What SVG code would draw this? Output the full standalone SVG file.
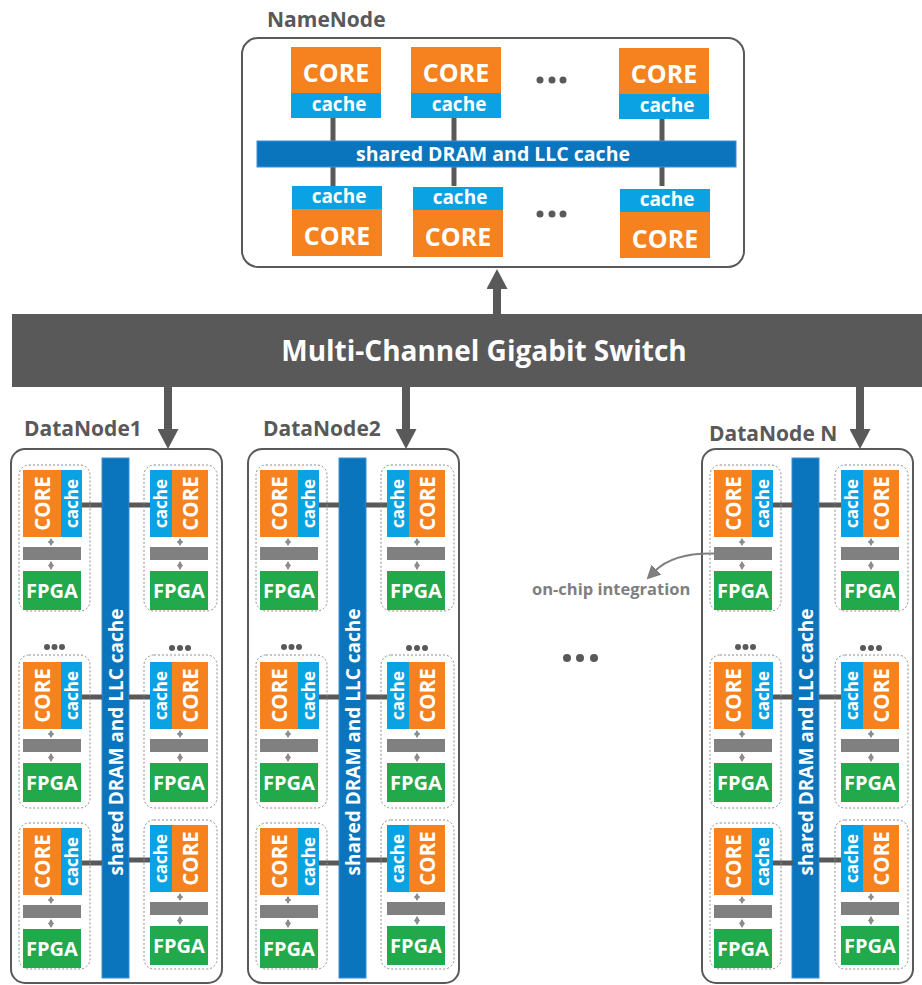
<svg xmlns="http://www.w3.org/2000/svg" width="922" height="985" viewBox="0 0 922 985">
<style>
.core{fill:#F5821F}
.cache{fill:#0AA2E2}
.bus{fill:#0A74BC;stroke:#3B8FD6;stroke-width:1}
.bar{fill:#808080}
.fpga{fill:#22A94B}
.dash{fill:none;stroke:#8C8C8C;stroke-width:1;stroke-dasharray:2 2}
.box{fill:#fff;stroke:#595959;stroke-width:2}
.t{font-family:"Open Sans","Noto Sans","Liberation Sans",sans-serif;font-weight:700}
.w{fill:#fff;text-anchor:middle}
.lbl{fill:#595959;font-size:21px}
.link{stroke:#595959;stroke-width:5}
.dbl{stroke:#8C8C8C;stroke-width:1.5;marker-start:url(#sa);marker-end:url(#sa)}
.big{stroke:#595959;stroke-width:8;marker-end:url(#ah)}
.dot{fill:#595959}
.vc{font-size:20.5px}
.vk{font-size:17px}
.fp{font-size:20px}
</style>
<defs>
<marker id="ah" markerUnits="userSpaceOnUse" markerWidth="20" markerHeight="21" viewBox="0 0 20 21" refX="0" refY="10.5" orient="auto"><path d="M0,0 L20,10.5 L0,21 Z" fill="#595959"/></marker>
<marker id="sa" markerUnits="userSpaceOnUse" markerWidth="5" markerHeight="6" viewBox="0 0 5 6" refX="4" refY="3" orient="auto-start-reverse"><path d="M0,0 L5,3 L0,6 Z" fill="#8C8C8C"/></marker>
<marker id="ga" markerUnits="userSpaceOnUse" markerWidth="14" markerHeight="14" viewBox="0 0 14 14" refX="2" refY="7" orient="auto"><path d="M0,0 L14,7 L0,14 Z" fill="#7F7F7F"/></marker>
</defs>

<g id="namenode">
<text class="t lbl" x="267" y="27">NameNode</text>
<rect class="box" x="242" y="38" width="502" height="229" rx="16"/>
<line class="link" x1="333" y1="118" x2="333" y2="186"/>
<line class="link" x1="454" y1="118" x2="454" y2="186"/>
<line class="link" x1="662" y1="118" x2="662" y2="186"/>
<rect class="bus" x="257" y="141" width="479" height="26"/>
<text class="t w" x="493" y="160.5" font-size="19.5">shared DRAM and LLC cache</text>
<rect class="core" x="291" y="47" width="90" height="46"/><rect class="cache" x="291" y="93" width="90" height="25"/>
<text class="t w" x="336" y="82" font-size="25">CORE</text><text class="t w" x="339" y="111" font-size="19">cache</text>
<rect class="core" x="411" y="47" width="90" height="46"/><rect class="cache" x="411" y="93" width="90" height="25"/>
<text class="t w" x="456" y="82" font-size="25">CORE</text><text class="t w" x="459" y="111" font-size="19">cache</text>
<rect class="core" x="619" y="48" width="90" height="46"/><rect class="cache" x="619" y="94" width="90" height="25"/>
<text class="t w" x="664" y="83" font-size="25">CORE</text><text class="t w" x="667" y="112" font-size="19">cache</text>
<rect class="cache" x="292" y="186" width="90" height="23"/><rect class="core" x="292" y="209" width="90" height="47"/>
<text class="t w" x="339" y="203" font-size="19">cache</text><text class="t w" x="337" y="245" font-size="25">CORE</text>
<rect class="cache" x="413" y="187" width="90" height="23"/><rect class="core" x="413" y="210" width="90" height="47"/>
<text class="t w" x="460" y="204" font-size="19">cache</text><text class="t w" x="458" y="246" font-size="25">CORE</text>
<rect class="cache" x="620" y="189" width="90" height="23"/><rect class="core" x="620" y="212" width="90" height="46"/>
<text class="t w" x="667" y="206" font-size="19">cache</text><text class="t w" x="665" y="248" font-size="25">CORE</text>
<circle class="dot" cx="540" cy="80" r="3.5"/><circle class="dot" cx="552" cy="80" r="3.5"/><circle class="dot" cx="563" cy="80" r="3.5"/>
<circle class="dot" cx="540" cy="214" r="3.5"/><circle class="dot" cx="552" cy="214" r="3.5"/><circle class="dot" cx="563" cy="214" r="3.5"/>
</g>

<g id="switch">
<rect x="12" y="314" width="910" height="73" fill="#595959"/>
<text class="t w" x="484" y="361" font-size="28">Multi-Channel Gigabit Switch</text>
</g>

<g id="datanode1">
<text class="t lbl" x="24" y="436">DataNode1</text>
<rect class="box" x="11" y="449" width="211" height="534" rx="14"/>
<rect class="bus" x="102" y="458" width="27" height="520"/>
<text class="t w" transform="translate(116,742) rotate(-90)" y="6.5" font-size="19">shared DRAM and LLC cache</text>
<line class="link" x1="82" y1="505" x2="102" y2="505"/><line class="link" x1="129" y1="505" x2="150" y2="505"/>
<line class="link" x1="82" y1="697" x2="102" y2="697"/><line class="link" x1="129" y1="697" x2="150" y2="697"/>
<line class="link" x1="82" y1="863" x2="102" y2="863"/><line class="link" x1="129" y1="860" x2="150" y2="860"/>
<g transform="translate(23,470)"><rect class="dash" x="-4" y="-5" width="71" height="146" rx="10"/><rect class="core" width="38" height="67"/><rect class="cache" x="38" width="21" height="67"/><text class="t w vc" transform="translate(19,33.5) rotate(-90)" y="7.5">CORE</text><text class="t w vk" transform="translate(49,33.5) rotate(-90)" y="6">cache</text><line class="dbl" x1="28" y1="69" x2="28" y2="75"/><rect class="bar" y="77" width="58" height="13"/><line class="dbl" x1="28" y1="92" x2="28" y2="99"/><rect class="fpga" y="101" width="58" height="39"/><text class="t w fp" x="29" y="127.5">FPGA</text></g>
<g transform="translate(150,470)"><rect class="dash" x="-6" y="-5" width="73" height="146" rx="10"/><rect class="cache" width="22" height="67"/><rect class="core" x="22" width="36" height="67"/><text class="t w vk" transform="translate(11,33.5) rotate(-90)" y="6">cache</text><text class="t w vc" transform="translate(40,33.5) rotate(-90)" y="7.5">CORE</text><line class="dbl" x1="30" y1="69" x2="30" y2="75"/><rect class="bar" y="77" width="58" height="13"/><line class="dbl" x1="30" y1="92" x2="30" y2="99"/><rect class="fpga" y="101" width="58" height="39"/><text class="t w fp" x="29" y="127.5">FPGA</text></g>
<g transform="translate(23,662)"><rect class="dash" x="-4" y="-7" width="71" height="153" rx="10"/><rect class="core" width="38" height="67"/><rect class="cache" x="38" width="21" height="67"/><text class="t w vc" transform="translate(19,33.5) rotate(-90)" y="7.5">CORE</text><text class="t w vk" transform="translate(49,33.5) rotate(-90)" y="6">cache</text><line class="dbl" x1="28" y1="69" x2="28" y2="75"/><rect class="bar" y="77" width="58" height="13"/><line class="dbl" x1="28" y1="92" x2="28" y2="99"/><rect class="fpga" y="101" width="58" height="39"/><text class="t w fp" x="29" y="127.5">FPGA</text></g>
<g transform="translate(150,662)"><rect class="dash" x="-6" y="-7" width="73" height="153" rx="10"/><rect class="cache" width="22" height="67"/><rect class="core" x="22" width="36" height="67"/><text class="t w vk" transform="translate(11,33.5) rotate(-90)" y="6">cache</text><text class="t w vc" transform="translate(40,33.5) rotate(-90)" y="7.5">CORE</text><line class="dbl" x1="30" y1="69" x2="30" y2="75"/><rect class="bar" y="77" width="58" height="13"/><line class="dbl" x1="30" y1="92" x2="30" y2="99"/><rect class="fpga" y="101" width="58" height="39"/><text class="t w fp" x="29" y="127.5">FPGA</text></g>
<g transform="translate(23,828)"><rect class="dash" x="-4" y="-5" width="71" height="146" rx="10"/><rect class="core" width="38" height="67"/><rect class="cache" x="38" width="21" height="67"/><text class="t w vc" transform="translate(19,33.5) rotate(-90)" y="7.5">CORE</text><text class="t w vk" transform="translate(49,33.5) rotate(-90)" y="6">cache</text><line class="dbl" x1="28" y1="69" x2="28" y2="75"/><rect class="bar" y="77" width="58" height="13"/><line class="dbl" x1="28" y1="92" x2="28" y2="99"/><rect class="fpga" y="101" width="58" height="39"/><text class="t w fp" x="29" y="127.5">FPGA</text></g>
<g transform="translate(150,825)"><rect class="dash" x="-6" y="-5" width="73" height="149" rx="10"/><rect class="cache" width="22" height="67"/><rect class="core" x="22" width="36" height="67"/><text class="t w vk" transform="translate(11,33.5) rotate(-90)" y="6">cache</text><text class="t w vc" transform="translate(40,33.5) rotate(-90)" y="7.5">CORE</text><line class="dbl" x1="30" y1="69" x2="30" y2="75"/><rect class="bar" y="77" width="58" height="13"/><line class="dbl" x1="30" y1="92" x2="30" y2="99"/><rect class="fpga" y="101" width="58" height="39"/><text class="t w fp" x="29" y="127.5">FPGA</text></g>
<circle class="dot" cx="47" cy="647" r="3"/><circle class="dot" cx="54.5" cy="647" r="3"/><circle class="dot" cx="62" cy="647" r="3"/>
<circle class="dot" cx="172" cy="648" r="3"/><circle class="dot" cx="180" cy="648" r="3"/><circle class="dot" cx="188" cy="648" r="3"/>
</g>

<g id="datanode2">
<text class="t lbl" x="263" y="436">DataNode2</text>
<g transform="translate(237,0)">
<rect class="box" x="11" y="449" width="211" height="534" rx="14"/>
<rect class="bus" x="102" y="458" width="27" height="520"/>
<text class="t w" transform="translate(116,742) rotate(-90)" y="6.5" font-size="19">shared DRAM and LLC cache</text>
<line class="link" x1="82" y1="505" x2="102" y2="505"/><line class="link" x1="129" y1="505" x2="150" y2="505"/>
<line class="link" x1="82" y1="697" x2="102" y2="697"/><line class="link" x1="129" y1="697" x2="150" y2="697"/>
<line class="link" x1="82" y1="863" x2="102" y2="863"/><line class="link" x1="129" y1="860" x2="150" y2="860"/>
<g transform="translate(23,470)"><rect class="dash" x="-4" y="-5" width="71" height="146" rx="10"/><rect class="core" width="38" height="67"/><rect class="cache" x="38" width="21" height="67"/><text class="t w vc" transform="translate(19,33.5) rotate(-90)" y="7.5">CORE</text><text class="t w vk" transform="translate(49,33.5) rotate(-90)" y="6">cache</text><line class="dbl" x1="28" y1="69" x2="28" y2="75"/><rect class="bar" y="77" width="58" height="13"/><line class="dbl" x1="28" y1="92" x2="28" y2="99"/><rect class="fpga" y="101" width="58" height="39"/><text class="t w fp" x="29" y="127.5">FPGA</text></g>
<g transform="translate(150,470)"><rect class="dash" x="-6" y="-5" width="73" height="146" rx="10"/><rect class="cache" width="22" height="67"/><rect class="core" x="22" width="36" height="67"/><text class="t w vk" transform="translate(11,33.5) rotate(-90)" y="6">cache</text><text class="t w vc" transform="translate(40,33.5) rotate(-90)" y="7.5">CORE</text><line class="dbl" x1="30" y1="69" x2="30" y2="75"/><rect class="bar" y="77" width="58" height="13"/><line class="dbl" x1="30" y1="92" x2="30" y2="99"/><rect class="fpga" y="101" width="58" height="39"/><text class="t w fp" x="29" y="127.5">FPGA</text></g>
<g transform="translate(23,662)"><rect class="dash" x="-4" y="-7" width="71" height="153" rx="10"/><rect class="core" width="38" height="67"/><rect class="cache" x="38" width="21" height="67"/><text class="t w vc" transform="translate(19,33.5) rotate(-90)" y="7.5">CORE</text><text class="t w vk" transform="translate(49,33.5) rotate(-90)" y="6">cache</text><line class="dbl" x1="28" y1="69" x2="28" y2="75"/><rect class="bar" y="77" width="58" height="13"/><line class="dbl" x1="28" y1="92" x2="28" y2="99"/><rect class="fpga" y="101" width="58" height="39"/><text class="t w fp" x="29" y="127.5">FPGA</text></g>
<g transform="translate(150,662)"><rect class="dash" x="-6" y="-7" width="73" height="153" rx="10"/><rect class="cache" width="22" height="67"/><rect class="core" x="22" width="36" height="67"/><text class="t w vk" transform="translate(11,33.5) rotate(-90)" y="6">cache</text><text class="t w vc" transform="translate(40,33.5) rotate(-90)" y="7.5">CORE</text><line class="dbl" x1="30" y1="69" x2="30" y2="75"/><rect class="bar" y="77" width="58" height="13"/><line class="dbl" x1="30" y1="92" x2="30" y2="99"/><rect class="fpga" y="101" width="58" height="39"/><text class="t w fp" x="29" y="127.5">FPGA</text></g>
<g transform="translate(23,828)"><rect class="dash" x="-4" y="-5" width="71" height="146" rx="10"/><rect class="core" width="38" height="67"/><rect class="cache" x="38" width="21" height="67"/><text class="t w vc" transform="translate(19,33.5) rotate(-90)" y="7.5">CORE</text><text class="t w vk" transform="translate(49,33.5) rotate(-90)" y="6">cache</text><line class="dbl" x1="28" y1="69" x2="28" y2="75"/><rect class="bar" y="77" width="58" height="13"/><line class="dbl" x1="28" y1="92" x2="28" y2="99"/><rect class="fpga" y="101" width="58" height="39"/><text class="t w fp" x="29" y="127.5">FPGA</text></g>
<g transform="translate(150,825)"><rect class="dash" x="-6" y="-5" width="73" height="149" rx="10"/><rect class="cache" width="22" height="67"/><rect class="core" x="22" width="36" height="67"/><text class="t w vk" transform="translate(11,33.5) rotate(-90)" y="6">cache</text><text class="t w vc" transform="translate(40,33.5) rotate(-90)" y="7.5">CORE</text><line class="dbl" x1="30" y1="69" x2="30" y2="75"/><rect class="bar" y="77" width="58" height="13"/><line class="dbl" x1="30" y1="92" x2="30" y2="99"/><rect class="fpga" y="101" width="58" height="39"/><text class="t w fp" x="29" y="127.5">FPGA</text></g>
<circle class="dot" cx="47" cy="647" r="3"/><circle class="dot" cx="54.5" cy="647" r="3"/><circle class="dot" cx="62" cy="647" r="3"/>
<circle class="dot" cx="172" cy="648" r="3"/><circle class="dot" cx="180" cy="648" r="3"/><circle class="dot" cx="188" cy="648" r="3"/>
</g>
</g>

<g id="datanodeN">
<text class="t lbl" x="709" y="441">DataNode N</text>
<g transform="translate(691,0)">
<rect class="box" x="11" y="449" width="211" height="534" rx="14"/>
<rect class="bus" x="101" y="458" width="27" height="520"/>
<text class="t w" transform="translate(115,742) rotate(-90)" y="6.5" font-size="19">shared DRAM and LLC cache</text>
<line class="link" x1="82" y1="505" x2="102" y2="505"/><line class="link" x1="128" y1="505" x2="150" y2="505"/>
<line class="link" x1="82" y1="697" x2="102" y2="697"/><line class="link" x1="128" y1="697" x2="150" y2="697"/>
<line class="link" x1="82" y1="863" x2="102" y2="863"/><line class="link" x1="128" y1="860" x2="150" y2="860"/>
<g transform="translate(23,470)"><rect class="dash" x="-4" y="-5" width="71" height="146" rx="10"/><rect class="core" width="38" height="67"/><rect class="cache" x="38" width="21" height="67"/><text class="t w vc" transform="translate(19,33.5) rotate(-90)" y="7.5">CORE</text><text class="t w vk" transform="translate(49,33.5) rotate(-90)" y="6">cache</text><line class="dbl" x1="28" y1="69" x2="28" y2="75"/><rect class="bar" y="77" width="58" height="13"/><line class="dbl" x1="28" y1="92" x2="28" y2="99"/><rect class="fpga" y="101" width="58" height="39"/><text class="t w fp" x="29" y="127.5">FPGA</text></g>
<g transform="translate(150,470)"><rect class="dash" x="-6" y="-5" width="73" height="146" rx="10"/><rect class="cache" width="22" height="67"/><rect class="core" x="22" width="36" height="67"/><text class="t w vk" transform="translate(11,33.5) rotate(-90)" y="6">cache</text><text class="t w vc" transform="translate(40,33.5) rotate(-90)" y="7.5">CORE</text><line class="dbl" x1="30" y1="69" x2="30" y2="75"/><rect class="bar" y="77" width="58" height="13"/><line class="dbl" x1="30" y1="92" x2="30" y2="99"/><rect class="fpga" y="101" width="58" height="39"/><text class="t w fp" x="29" y="127.5">FPGA</text></g>
<g transform="translate(23,662)"><rect class="dash" x="-4" y="-7" width="71" height="153" rx="10"/><rect class="core" width="38" height="67"/><rect class="cache" x="38" width="21" height="67"/><text class="t w vc" transform="translate(19,33.5) rotate(-90)" y="7.5">CORE</text><text class="t w vk" transform="translate(49,33.5) rotate(-90)" y="6">cache</text><line class="dbl" x1="28" y1="69" x2="28" y2="75"/><rect class="bar" y="77" width="58" height="13"/><line class="dbl" x1="28" y1="92" x2="28" y2="99"/><rect class="fpga" y="101" width="58" height="39"/><text class="t w fp" x="29" y="127.5">FPGA</text></g>
<g transform="translate(150,662)"><rect class="dash" x="-6" y="-7" width="73" height="153" rx="10"/><rect class="cache" width="22" height="67"/><rect class="core" x="22" width="36" height="67"/><text class="t w vk" transform="translate(11,33.5) rotate(-90)" y="6">cache</text><text class="t w vc" transform="translate(40,33.5) rotate(-90)" y="7.5">CORE</text><line class="dbl" x1="30" y1="69" x2="30" y2="75"/><rect class="bar" y="77" width="58" height="13"/><line class="dbl" x1="30" y1="92" x2="30" y2="99"/><rect class="fpga" y="101" width="58" height="39"/><text class="t w fp" x="29" y="127.5">FPGA</text></g>
<g transform="translate(23,828)"><rect class="dash" x="-4" y="-5" width="71" height="146" rx="10"/><rect class="core" width="38" height="67"/><rect class="cache" x="38" width="21" height="67"/><text class="t w vc" transform="translate(19,33.5) rotate(-90)" y="7.5">CORE</text><text class="t w vk" transform="translate(49,33.5) rotate(-90)" y="6">cache</text><line class="dbl" x1="28" y1="69" x2="28" y2="75"/><rect class="bar" y="77" width="58" height="13"/><line class="dbl" x1="28" y1="92" x2="28" y2="99"/><rect class="fpga" y="101" width="58" height="39"/><text class="t w fp" x="29" y="127.5">FPGA</text></g>
<g transform="translate(150,825)"><rect class="dash" x="-6" y="-5" width="73" height="149" rx="10"/><rect class="cache" width="22" height="67"/><rect class="core" x="22" width="36" height="67"/><text class="t w vk" transform="translate(11,33.5) rotate(-90)" y="6">cache</text><text class="t w vc" transform="translate(40,33.5) rotate(-90)" y="7.5">CORE</text><line class="dbl" x1="30" y1="69" x2="30" y2="75"/><rect class="bar" y="77" width="58" height="13"/><line class="dbl" x1="30" y1="92" x2="30" y2="99"/><rect class="fpga" y="101" width="58" height="39"/><text class="t w fp" x="29" y="127.5">FPGA</text></g>
<circle class="dot" cx="47" cy="647" r="3"/><circle class="dot" cx="54.5" cy="647" r="3"/><circle class="dot" cx="62" cy="647" r="3"/>
<circle class="dot" cx="172" cy="648" r="3"/><circle class="dot" cx="180" cy="648" r="3"/><circle class="dot" cx="188" cy="648" r="3"/>
</g>
</g>

<g id="annotation">
<text class="t" x="532" y="595" font-size="16.5" fill="#7F7F7F">on-chip integration</text>
<circle class="dot" cx="567" cy="658" r="4"/><circle class="dot" cx="580" cy="658" r="4"/><circle class="dot" cx="594" cy="658" r="4"/>
</g>

<g id="connectors">
<line class="big" x1="497" y1="314" x2="497" y2="289"/>
<line class="big" x1="168" y1="387" x2="168" y2="429"/>
<line class="big" x1="406" y1="387" x2="406" y2="429"/>
<line class="big" x1="860" y1="387" x2="860" y2="429"/>
<path d="M714,553.5 C690,553 668,558 655,571" fill="none" stroke="#7F7F7F" stroke-width="2" marker-end="url(#ga)"/>
</g>
</svg>
